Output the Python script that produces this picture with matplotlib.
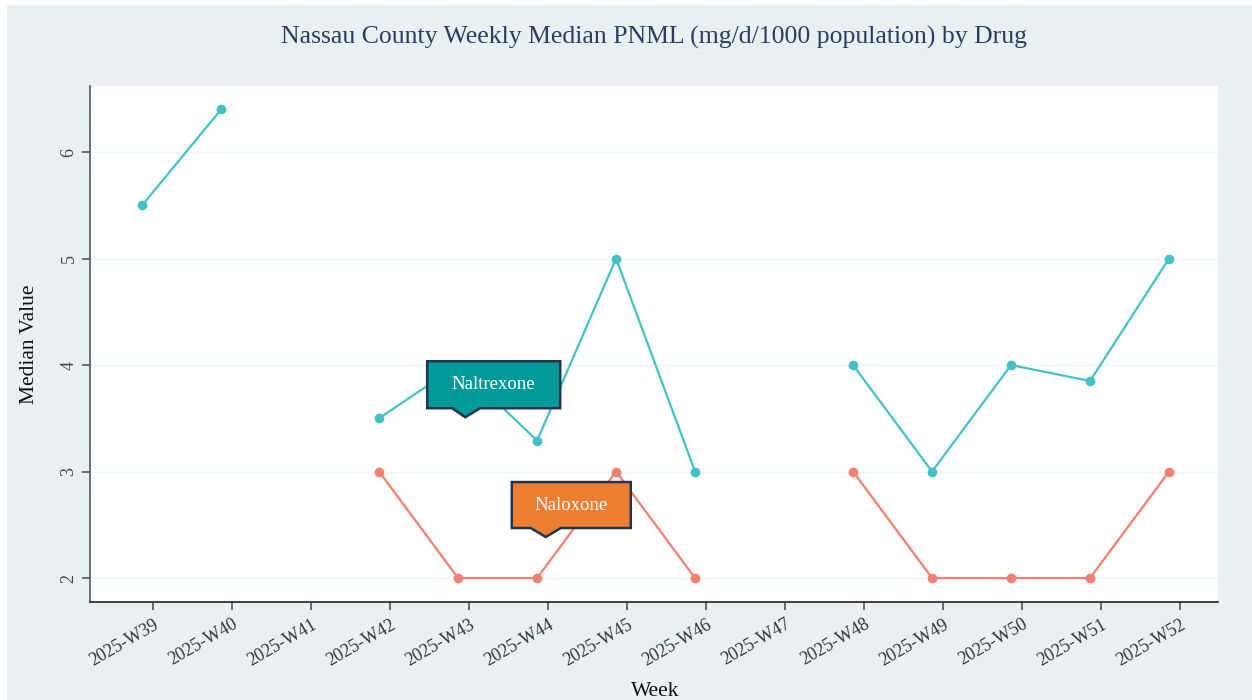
import numpy as np
import matplotlib.pyplot as plt
from matplotlib.patches import Rectangle, Polygon
from matplotlib.transforms import ScaledTranslation

plt.rcParams['font.family'] = ['Liberation Serif', 'DejaVu Serif']

weeks = ['2025-W39', '2025-W40', '2025-W41', '2025-W42', '2025-W43', '2025-W44', '2025-W45',
         '2025-W46', '2025-W47', '2025-W48', '2025-W49', '2025-W50', '2025-W51', '2025-W52']
naltrexone = [5.5, 6.4, np.nan, 3.5, 4.0, 3.29, 5.0, 3.0, np.nan, 4.0, 3.0, 4.0, 3.85, 5.0]
naloxone = [np.nan, np.nan, np.nan, 3.0, 2.0, 2.0, 3.0, 2.0, np.nan, 3.0, 2.0, 2.0, 2.0, 3.0]

PANEL = '#e9f0f2'
TEAL = '#45c1c6'
SALMON = '#f0806f'
DODGE = -0.14

fig = plt.figure(figsize=(12.52, 7), dpi=100)
fig.patch.set_facecolor('white')
fig.patches.append(Rectangle((7 / 1252, 0), 1, (700 - 5) / 700, transform=fig.transFigure,
                             facecolor=PANEL, edgecolor='none', zorder=-10))

ax = fig.add_axes([90 / 1252, 98 / 700, 1128 / 1252, 516 / 700])
ax.set_facecolor('white')

x = np.arange(len(weeks)) + DODGE
ax.plot(x, naltrexone, color=TEAL, lw=1.6, marker='o', ms=6, zorder=3)
ax.plot(x, naloxone, color=SALMON, lw=1.6, marker='o', ms=6, zorder=3)

ax.set_xlim(-0.80, 13.48)
ax.set_ylim(1.775, 6.62)
ax.set_xticks(np.arange(len(weeks)))
ax.set_xticklabels(weeks, rotation=30, ha='right', rotation_mode='anchor', fontsize=13, color='#333333')
ax.set_yticks([2, 3, 4, 5, 6])
ax.set_yticklabels(['2', '3', '4', '5', '6'], rotation=90, va='center', fontsize=13, color='#444444')
ax.tick_params(axis='both', length=6, width=1.2, color='#555555')
ax.tick_params(axis='x', pad=4)
ax.tick_params(axis='y', pad=3)
ax.yaxis.grid(True, color='#eef4f4', lw=1)
ax.set_axisbelow(True)
for s in ['top', 'right']:
    ax.spines[s].set_visible(False)
ax.spines['left'].set_color('#555555')
ax.spines['bottom'].set_color('#222222')
ax.spines['left'].set_linewidth(1.2)
ax.spines['bottom'].set_linewidth(1.2)

fig.text(654 / 1252, 1 - 37 / 700, 'Nassau County Weekly Median PNML (mg/d/1000 population) by Drug',
         ha='center', va='center', fontsize=18.5, color='#2a3f5f')
fig.text(30 / 1252, 1 - 344 / 700, 'Median Value', rotation=90, ha='center', va='center',
         fontsize=15.5, color='#111111')
fig.text(655 / 1252, 1 - 692 / 700, 'Week', ha='center', va='center', fontsize=15.5, color='#111111')


def callout(tx, ty, label, color, left, right, top, bottom, pl, pr):
    # shape in pixels relative to the pointer tip, converted to inches
    tr = fig.dpi_scale_trans + ScaledTranslation(tx, ty, ax.transData)
    pts = [(left, bottom), (pl, bottom), (0, 0), (pr, bottom), (right, bottom),
           (right, top), (left, top)]
    pts = [(px / 100, py / 100) for px, py in pts]
    ax.add_patch(Polygon(pts, closed=True, transform=tr, facecolor=color,
                         edgecolor='#1f3550', lw=1.8, zorder=5, clip_on=False))
    ax.text((left + right) / 200, (top + bottom) / 200, label, transform=tr, ha='center', va='center',
            color='white', fontsize=13.5, zorder=6)


callout(3.95, 3.51, 'Naltrexone', '#009999', -38, 95, 56, 9, -13, 15)
callout(4.97, 2.385, 'Naloxone', '#ed7d31', -34, 85, 55, 9, -15, 15)

fig.savefig('out.png', dpi=100, facecolor=fig.get_facecolor())
